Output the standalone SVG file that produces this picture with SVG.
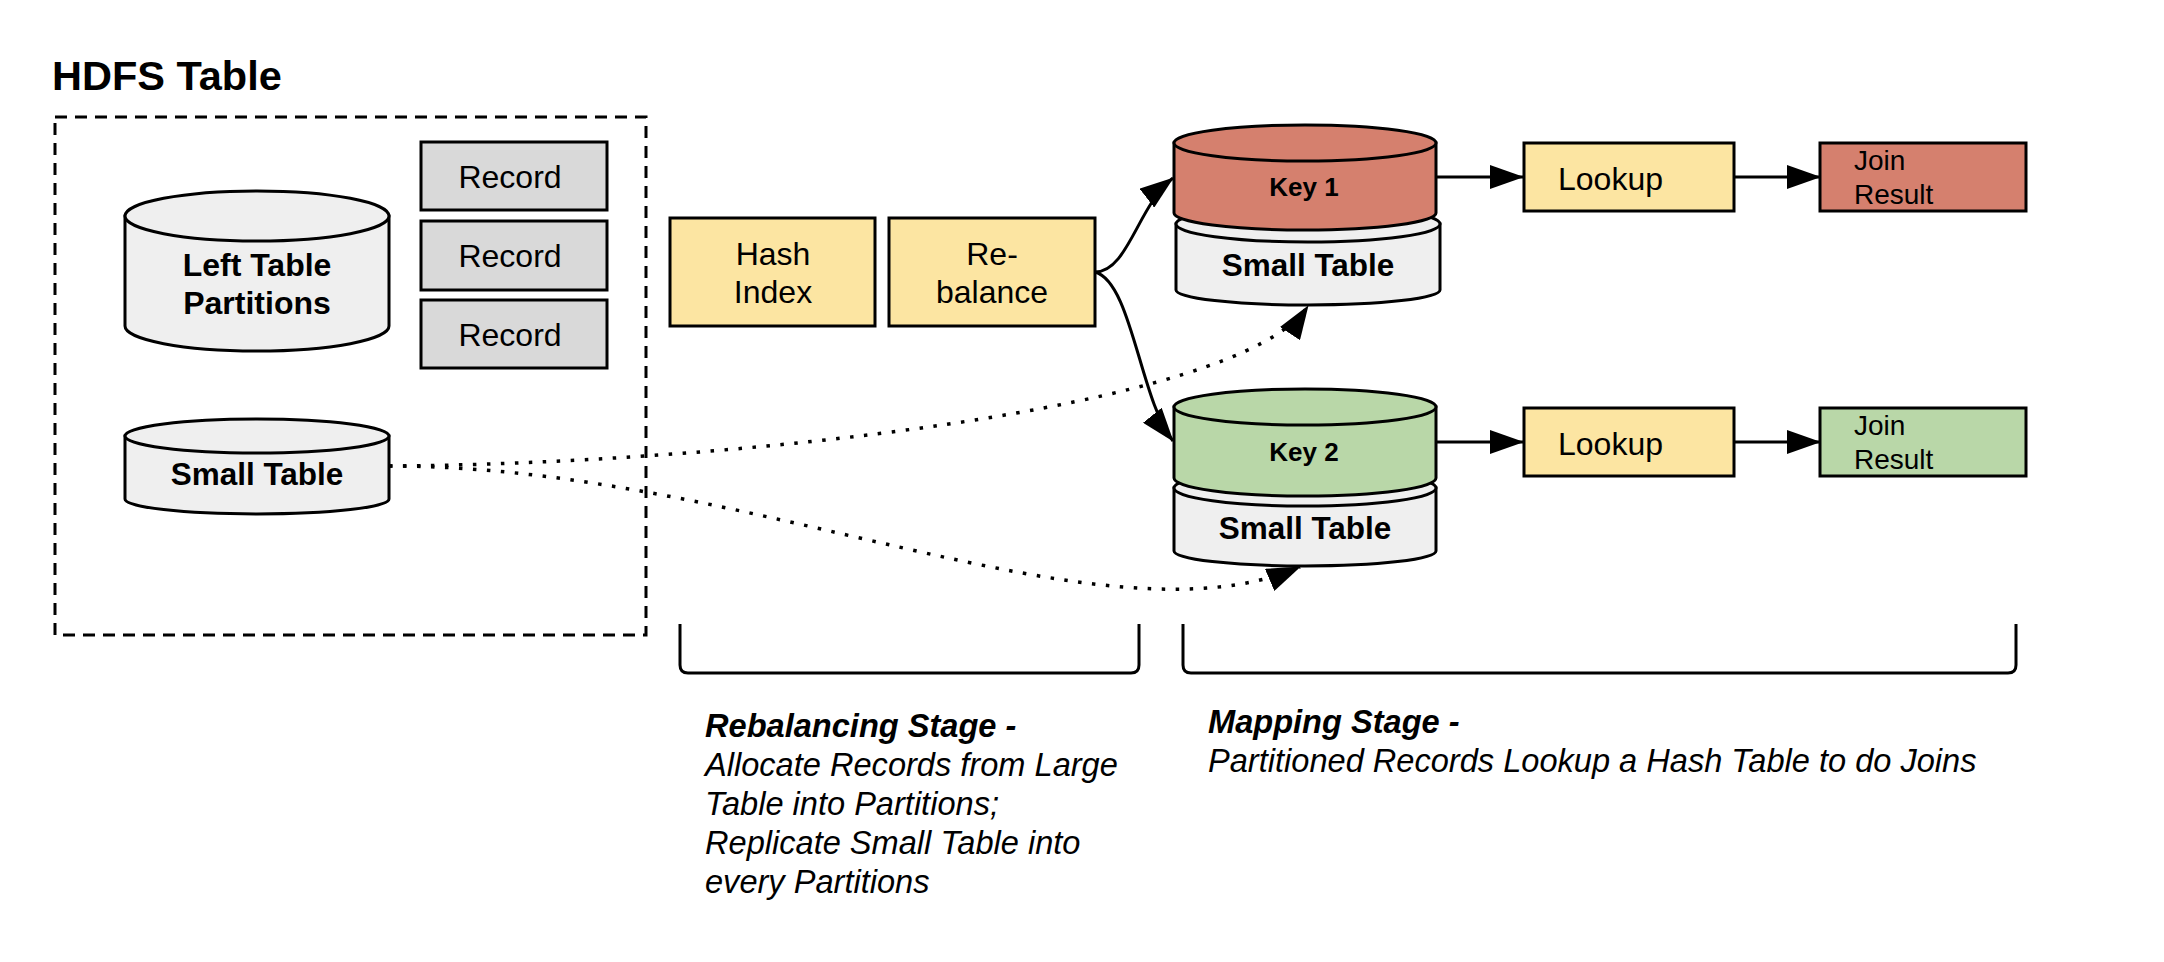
<svg xmlns="http://www.w3.org/2000/svg" width="2164" height="962" viewBox="0 0 2164 962">
<style>
text{font-family:"Liberation Sans",Arial,sans-serif;fill:#000}
.b{font-weight:bold}
.box{stroke:#000;stroke-width:3}
.cyl{stroke:#000;stroke-width:3}
.ln{fill:none;stroke:#000;stroke-width:3}
.dot{fill:none;stroke:#000;stroke-width:3.5;stroke-dasharray:3.5 10.5}
.c{text-anchor:middle}
.it{font-style:italic}
</style>
<defs>
<marker id="ah" markerUnits="userSpaceOnUse" viewBox="0 0 34 24" markerWidth="34" markerHeight="24" refX="33" refY="12" orient="auto">
<path d="M0,0 L34,12 L0,24 Z" fill="#000"/>
</marker>
</defs>
<rect width="2164" height="962" fill="#fff"/>
<text x="52" y="90" class="b" font-size="41.5">HDFS Table</text>
<g id="hdfs">
<rect x="55" y="117" width="591" height="518" fill="none" stroke="#000" stroke-width="3" stroke-dasharray="12 8"/>
</g>
<g id="record1"><rect x="421" y="142" width="186" height="68" fill="#d9d9d9" class="box"/><text x="510" y="188" class="c" font-size="32">Record</text></g>
<g id="record2"><rect x="421" y="221" width="186" height="69" fill="#d9d9d9" class="box"/><text x="510" y="267" class="c" font-size="32">Record</text></g>
<g id="record3"><rect x="421" y="300" width="186" height="68" fill="#d9d9d9" class="box"/><text x="510" y="346" class="c" font-size="32">Record</text></g>
<g id="left-table">
<path d="M125,216 L125,326 A132,25 0 0 0 389,326 L389,216 Z" fill="#efefef" class="cyl"/>
<ellipse cx="257" cy="216" rx="132" ry="25" fill="#efefef" class="cyl"/>
<text x="257" y="276" class="c b" font-size="32">Left Table</text>
<text x="257" y="314" class="c b" font-size="32">Partitions</text>
</g>
<g id="small-table">
<path d="M125,436 L125,499 A132,15 0 0 0 389,499 L389,436 Z" fill="#efefef" class="cyl"/>
<ellipse cx="257" cy="436" rx="132" ry="17" fill="#efefef" class="cyl"/>
<text x="257" y="485" class="c b" font-size="31.5">Small Table</text>
</g>
<g id="hash-index"><rect x="670" y="218" width="205" height="108" fill="#fce5a2" class="box"/><text x="773" y="265" class="c" font-size="32">Hash</text><text x="773" y="303" class="c" font-size="32">Index</text></g>
<g id="rebalance"><rect x="889" y="218" width="206" height="108" fill="#fce5a2" class="box"/><text x="992" y="265" class="c" font-size="32">Re-</text><text x="992" y="303" class="c" font-size="32">balance</text></g>
<g id="small-table-1">
<path d="M1176,224 L1176,290 A132,15 0 0 0 1440,290 L1440,224 Z" fill="#efefef" class="cyl"/>
<ellipse cx="1308" cy="224" rx="132" ry="18" fill="#efefef" class="cyl"/>
<text x="1308" y="276" class="c b" font-size="31.5">Small Table</text>
</g>
<g id="key1">
<path d="M1174,143 L1174,213 A131,17 0 0 0 1436,213 L1436,143 Z" fill="#d5806e" class="cyl"/>
<ellipse cx="1305" cy="143" rx="131" ry="18" fill="#d5806e" class="cyl"/>
<text x="1304" y="196" class="c b" font-size="26">Key 1</text>
</g>
<g id="small-table-2">
<path d="M1174,488 L1174,551 A131,15 0 0 0 1436,551 L1436,488 Z" fill="#efefef" class="cyl"/>
<ellipse cx="1305" cy="488" rx="131" ry="18" fill="#efefef" class="cyl"/>
<text x="1305" y="539" class="c b" font-size="31.5">Small Table</text>
</g>
<g id="key2">
<path d="M1174,407 L1174,478 A131,18 0 0 0 1436,478 L1436,407 Z" fill="#b9d7a8" class="cyl"/>
<ellipse cx="1305" cy="407" rx="131" ry="18" fill="#b9d7a8" class="cyl"/>
<text x="1304" y="461" class="c b" font-size="26">Key 2</text>
</g>
<g id="lookup1"><rect x="1524" y="143" width="210" height="68" fill="#fce5a2" class="box"/><text x="1558" y="190" font-size="32">Lookup</text></g>
<g id="lookup2"><rect x="1524" y="408" width="210" height="68" fill="#fce5a2" class="box"/><text x="1558" y="455" font-size="32">Lookup</text></g>
<g id="join1"><rect x="1820" y="143" width="206" height="68" fill="#d5806e" class="box"/><text x="1854" y="170" font-size="28">Join</text><text x="1854" y="204" font-size="28">Result</text></g>
<g id="join2"><rect x="1820" y="408" width="206" height="68" fill="#b9d7a8" class="box"/><text x="1854" y="435" font-size="28">Join</text><text x="1854" y="469" font-size="28">Result</text></g>
<g id="connectors">
<path class="ln" d="M1095,272 C1128,272 1138,205 1173,178" marker-end="url(#ah)"/>
<path class="ln" d="M1095,272 C1132,282 1140,400 1173,441" marker-end="url(#ah)"/>
<line class="ln" x1="1436" y1="177" x2="1523" y2="177" marker-end="url(#ah)"/>
<line class="ln" x1="1734" y1="177" x2="1820" y2="177" marker-end="url(#ah)"/>
<line class="ln" x1="1436" y1="442" x2="1523" y2="442" marker-end="url(#ah)"/>
<line class="ln" x1="1734" y1="442" x2="1820" y2="442" marker-end="url(#ah)"/>
<path class="dot" d="M389,466 C720,464 1240,410 1308,306" marker-end="url(#ah)"/>
<path class="dot" d="M389,466 C750,466 1100,652 1300,567" marker-end="url(#ah)"/>
</g>
<g id="rebalancing-stage">
<path class="ln" d="M680,624 V665 Q680,673 688,673 H1131 Q1139,673 1139,665 V624"/>
<text x="705" y="737" class="b it" font-size="32.6">Rebalancing Stage -</text>
<text x="705" y="776" class="it" font-size="32.6">Allocate Records from Large</text>
<text x="705" y="815" class="it" font-size="32.6">Table into Partitions;</text>
<text x="705" y="854" class="it" font-size="32.6">Replicate Small Table into</text>
<text x="705" y="893" class="it" font-size="32.6">every Partitions</text>
</g>
<g id="mapping-stage">
<path class="ln" d="M1183,624 V665 Q1183,673 1191,673 H2008 Q2016,673 2016,665 V624"/>
<text x="1208" y="733" class="b it" font-size="32.6">Mapping Stage -</text>
<text x="1208" y="772" class="it" font-size="32.6">Partitioned Records Lookup a Hash Table to do Joins</text>
</g>
</svg>
